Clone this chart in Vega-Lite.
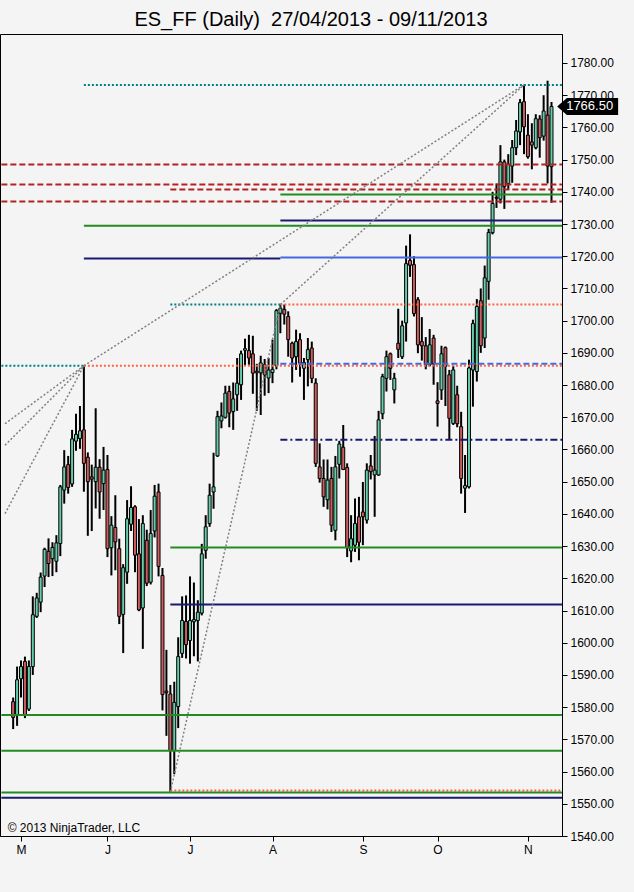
{
  "$schema": "https://vega.github.io/schema/vega-lite/v6.json",
  "autosize": "none",
  "width": 562,
  "height": 802,
  "padding": {"left": 0, "top": 34, "right": 72, "bottom": 56},
  "background": "#f4f4f4",
  "title": {
    "text": "ES_FF (Daily)\u00a0 27/04/2013 - 09/11/2013",
    "font": "Liberation Sans",
    "fontSize": 20,
    "fontWeight": "normal",
    "color": "#000000",
    "baseline": "bottom",
    "offset": 6,
    "dx": 30,
    "dy": 22
  },
  "datasets": {
    "bars": [
      {"d": 1, "o": 1581.7, "h": 1583.0, "l": 1573.2, "c": 1576.8},
      {"d": 2, "o": 1577.4, "h": 1592.6, "l": 1574.2, "c": 1588.5},
      {"d": 3, "o": 1588.8, "h": 1594.5, "l": 1583.0, "c": 1592.6},
      {"d": 4, "o": 1594.2, "h": 1595.7, "l": 1576.6, "c": 1577.4},
      {"d": 5, "o": 1579.4, "h": 1594.5, "l": 1578.8, "c": 1592.6},
      {"d": 6, "o": 1592.6, "h": 1614.4, "l": 1590.0, "c": 1608.7},
      {"d": 7, "o": 1608.2, "h": 1615.5, "l": 1607.7, "c": 1613.9},
      {"d": 8, "o": 1612.6, "h": 1621.8, "l": 1609.5, "c": 1620.4},
      {"d": 9, "o": 1620.7, "h": 1629.5, "l": 1617.3, "c": 1629.0},
      {"d": 10, "o": 1628.4, "h": 1632.4, "l": 1620.4, "c": 1624.6},
      {"d": 11, "o": 1626.1, "h": 1631.2, "l": 1620.7, "c": 1629.6},
      {"d": 12, "o": 1625.3, "h": 1633.4, "l": 1621.9, "c": 1631.0},
      {"d": 13, "o": 1630.8, "h": 1649.0, "l": 1626.9, "c": 1648.4},
      {"d": 14, "o": 1647.4, "h": 1659.8, "l": 1643.2, "c": 1654.6},
      {"d": 15, "o": 1655.3, "h": 1658.0, "l": 1646.3, "c": 1648.2},
      {"d": 16, "o": 1649.3, "h": 1666.1, "l": 1648.4, "c": 1663.3},
      {"d": 17, "o": 1662.6, "h": 1671.1, "l": 1659.6, "c": 1664.7},
      {"d": 18, "o": 1663.4, "h": 1673.5, "l": 1660.2, "c": 1665.8},
      {"d": 19, "o": 1666.1, "h": 1686.0, "l": 1646.9, "c": 1655.7},
      {"d": 20, "o": 1657.6, "h": 1659.1, "l": 1633.2, "c": 1650.0},
      {"d": 21, "o": 1651.5, "h": 1655.3, "l": 1634.7, "c": 1650.8},
      {"d": 22, "o": 1650.0, "h": 1672.8, "l": 1641.7, "c": 1654.5},
      {"d": 23, "o": 1654.5, "h": 1657.0, "l": 1638.5, "c": 1646.8},
      {"d": 24, "o": 1649.4, "h": 1660.8, "l": 1641.2, "c": 1653.6},
      {"d": 25, "o": 1653.8, "h": 1658.3, "l": 1626.6, "c": 1629.2},
      {"d": 26, "o": 1629.5, "h": 1639.3, "l": 1620.9, "c": 1636.5},
      {"d": 27, "o": 1635.8, "h": 1645.8, "l": 1622.5, "c": 1631.3},
      {"d": 28, "o": 1629.2, "h": 1632.3, "l": 1605.8, "c": 1608.2},
      {"d": 29, "o": 1608.8, "h": 1624.4, "l": 1596.8, "c": 1623.3},
      {"d": 30, "o": 1621.9, "h": 1644.3, "l": 1618.3, "c": 1638.5},
      {"d": 31, "o": 1636.8, "h": 1648.6, "l": 1634.7, "c": 1642.0},
      {"d": 32, "o": 1642.2, "h": 1642.7, "l": 1621.9, "c": 1627.2},
      {"d": 33, "o": 1627.6, "h": 1638.4, "l": 1609.8, "c": 1610.2},
      {"d": 34, "o": 1610.8, "h": 1639.6, "l": 1598.1, "c": 1637.0},
      {"d": 35, "o": 1631.8, "h": 1635.1, "l": 1617.6, "c": 1618.5},
      {"d": 36, "o": 1618.8, "h": 1641.2, "l": 1618.1, "c": 1633.9},
      {"d": 37, "o": 1634.7, "h": 1649.0, "l": 1632.7, "c": 1645.5},
      {"d": 38, "o": 1646.8, "h": 1649.4, "l": 1620.6, "c": 1623.7},
      {"d": 39, "o": 1620.9, "h": 1623.2, "l": 1579.0, "c": 1583.9},
      {"d": 40, "o": 1585.0, "h": 1597.8, "l": 1571.1, "c": 1584.5},
      {"d": 41, "o": 1584.1, "h": 1586.9, "l": 1553.6, "c": 1566.5},
      {"d": 42, "o": 1566.5, "h": 1587.9, "l": 1559.2, "c": 1581.5},
      {"d": 43, "o": 1580.2, "h": 1601.7, "l": 1573.5, "c": 1595.7},
      {"d": 44, "o": 1596.7, "h": 1614.4, "l": 1595.3, "c": 1606.9},
      {"d": 45, "o": 1606.6, "h": 1614.7, "l": 1595.1, "c": 1599.4},
      {"d": 46, "o": 1600.7, "h": 1620.6, "l": 1593.5, "c": 1606.9},
      {"d": 47, "o": 1606.5, "h": 1618.7, "l": 1595.8, "c": 1607.2},
      {"d": 48, "o": 1606.9, "h": 1613.2, "l": 1594.2, "c": 1609.5},
      {"d": 49, "o": 1609.2, "h": 1630.7, "l": 1608.5, "c": 1627.6},
      {"d": 50, "o": 1628.7, "h": 1639.6, "l": 1626.1, "c": 1636.0},
      {"d": 51, "o": 1637.0, "h": 1649.4, "l": 1636.0, "c": 1645.8},
      {"d": 52, "o": 1646.8, "h": 1659.0, "l": 1641.6, "c": 1648.4},
      {"d": 53, "o": 1658.0, "h": 1672.0, "l": 1657.7, "c": 1670.2},
      {"d": 54, "o": 1668.9, "h": 1674.6, "l": 1666.6, "c": 1670.4},
      {"d": 55, "o": 1670.0, "h": 1679.8, "l": 1669.6, "c": 1677.5},
      {"d": 56, "o": 1678.0, "h": 1679.8, "l": 1666.9, "c": 1671.3},
      {"d": 57, "o": 1671.8, "h": 1680.8, "l": 1666.1, "c": 1675.7},
      {"d": 58, "o": 1677.0, "h": 1688.4, "l": 1672.0, "c": 1680.6},
      {"d": 59, "o": 1680.1, "h": 1690.7, "l": 1675.4, "c": 1689.7},
      {"d": 60, "o": 1690.8, "h": 1694.4, "l": 1686.0, "c": 1691.3},
      {"d": 61, "o": 1690.7, "h": 1695.6, "l": 1686.3, "c": 1688.4},
      {"d": 62, "o": 1689.7, "h": 1695.3, "l": 1677.3, "c": 1683.7},
      {"d": 63, "o": 1684.3, "h": 1686.6, "l": 1672.0, "c": 1683.8},
      {"d": 64, "o": 1683.8, "h": 1689.1, "l": 1670.7, "c": 1686.9},
      {"d": 65, "o": 1686.3, "h": 1688.1, "l": 1676.7, "c": 1683.2},
      {"d": 66, "o": 1682.2, "h": 1688.4, "l": 1677.5, "c": 1684.7},
      {"d": 67, "o": 1683.9, "h": 1694.1, "l": 1680.6, "c": 1684.9},
      {"d": 68, "o": 1686.0, "h": 1703.6, "l": 1684.9, "c": 1703.1},
      {"d": 69, "o": 1702.3, "h": 1705.0, "l": 1696.1, "c": 1703.9},
      {"d": 70, "o": 1703.5, "h": 1705.0, "l": 1698.8, "c": 1702.0},
      {"d": 71, "o": 1701.3, "h": 1702.9, "l": 1688.8, "c": 1694.1},
      {"d": 72, "o": 1693.0, "h": 1693.5, "l": 1680.8, "c": 1688.4},
      {"d": 73, "o": 1688.8, "h": 1697.2, "l": 1684.7, "c": 1693.5},
      {"d": 74, "o": 1694.1, "h": 1696.1, "l": 1682.6, "c": 1686.8},
      {"d": 75, "o": 1685.2, "h": 1688.4, "l": 1675.4, "c": 1687.0},
      {"d": 76, "o": 1687.9, "h": 1694.6, "l": 1679.6, "c": 1691.0},
      {"d": 77, "o": 1691.5, "h": 1693.5, "l": 1680.6, "c": 1682.1},
      {"d": 78, "o": 1680.6, "h": 1682.1, "l": 1654.6, "c": 1655.7},
      {"d": 79, "o": 1654.6, "h": 1661.9, "l": 1649.7, "c": 1651.0},
      {"d": 80, "o": 1651.0, "h": 1656.9, "l": 1642.2, "c": 1645.3},
      {"d": 81, "o": 1644.4, "h": 1656.9, "l": 1641.4, "c": 1650.5},
      {"d": 82, "o": 1651.0, "h": 1654.6, "l": 1634.4, "c": 1636.5},
      {"d": 83, "o": 1634.9, "h": 1658.0, "l": 1631.8, "c": 1654.6},
      {"d": 84, "o": 1655.4, "h": 1662.7, "l": 1651.0, "c": 1661.7},
      {"d": 85, "o": 1660.7, "h": 1667.6, "l": 1653.6, "c": 1653.8},
      {"d": 86, "o": 1654.4, "h": 1655.7, "l": 1626.6, "c": 1629.5},
      {"d": 87, "o": 1628.5, "h": 1639.6, "l": 1625.0, "c": 1632.3},
      {"d": 88, "o": 1630.3, "h": 1644.8, "l": 1628.2, "c": 1637.0},
      {"d": 89, "o": 1639.1, "h": 1645.3, "l": 1625.6, "c": 1631.2},
      {"d": 90, "o": 1640.6, "h": 1649.9, "l": 1630.3, "c": 1639.1},
      {"d": 91, "o": 1638.1, "h": 1655.7, "l": 1637.0, "c": 1653.6},
      {"d": 92, "o": 1654.9, "h": 1658.3, "l": 1650.7, "c": 1653.1},
      {"d": 93, "o": 1652.1, "h": 1664.2, "l": 1639.1, "c": 1653.6},
      {"d": 94, "o": 1652.1, "h": 1672.0, "l": 1651.8, "c": 1669.2},
      {"d": 95, "o": 1671.1, "h": 1683.5, "l": 1669.4, "c": 1682.6},
      {"d": 96, "o": 1682.1, "h": 1690.7, "l": 1678.0, "c": 1688.8},
      {"d": 97, "o": 1689.7, "h": 1690.1, "l": 1681.6, "c": 1685.2},
      {"d": 98, "o": 1678.5, "h": 1683.8, "l": 1674.3, "c": 1682.1},
      {"d": 99, "o": 1693.0, "h": 1703.7, "l": 1688.4, "c": 1691.1},
      {"d": 100, "o": 1688.8, "h": 1700.0, "l": 1688.1, "c": 1698.4},
      {"d": 101, "o": 1699.3, "h": 1723.3, "l": 1693.5, "c": 1717.7},
      {"d": 102, "o": 1718.7, "h": 1726.8, "l": 1713.6, "c": 1717.2},
      {"d": 103, "o": 1717.4, "h": 1720.0, "l": 1701.3, "c": 1702.2},
      {"d": 104, "o": 1706.5, "h": 1707.3, "l": 1689.9, "c": 1692.5},
      {"d": 105, "o": 1693.5, "h": 1701.1, "l": 1687.6, "c": 1692.2},
      {"d": 106, "o": 1692.2, "h": 1694.9, "l": 1684.9, "c": 1686.3},
      {"d": 107, "o": 1686.3, "h": 1697.4, "l": 1685.8, "c": 1692.5},
      {"d": 108, "o": 1694.6, "h": 1695.6, "l": 1680.1, "c": 1686.6},
      {"d": 109, "o": 1675.1, "h": 1680.9, "l": 1667.1, "c": 1674.3},
      {"d": 110, "o": 1678.5, "h": 1692.2, "l": 1675.4, "c": 1689.7},
      {"d": 111, "o": 1691.6, "h": 1692.0, "l": 1673.5, "c": 1685.8},
      {"d": 112, "o": 1683.2, "h": 1684.7, "l": 1663.0, "c": 1669.7},
      {"d": 113, "o": 1668.1, "h": 1686.0, "l": 1667.6, "c": 1684.7},
      {"d": 114, "o": 1677.0, "h": 1679.8, "l": 1666.9, "c": 1668.0},
      {"d": 115, "o": 1667.1, "h": 1671.7, "l": 1646.3, "c": 1651.0},
      {"d": 116, "o": 1648.0, "h": 1658.3, "l": 1640.3, "c": 1648.8},
      {"d": 117, "o": 1648.4, "h": 1687.9, "l": 1647.9, "c": 1685.3},
      {"d": 118, "o": 1684.7, "h": 1700.3, "l": 1673.3, "c": 1699.1},
      {"d": 119, "o": 1684.2, "h": 1706.7, "l": 1681.1, "c": 1704.4},
      {"d": 120, "o": 1706.2, "h": 1710.0, "l": 1690.0, "c": 1692.2},
      {"d": 121, "o": 1694.6, "h": 1717.1, "l": 1691.5, "c": 1713.3},
      {"d": 122, "o": 1712.2, "h": 1728.5, "l": 1706.5, "c": 1727.4},
      {"d": 123, "o": 1727.3, "h": 1740.0, "l": 1726.8, "c": 1736.4},
      {"d": 124, "o": 1738.3, "h": 1742.6, "l": 1735.0, "c": 1738.0},
      {"d": 125, "o": 1737.7, "h": 1754.5, "l": 1736.4, "c": 1749.3},
      {"d": 126, "o": 1749.3, "h": 1750.0, "l": 1734.7, "c": 1741.6},
      {"d": 127, "o": 1742.6, "h": 1751.7, "l": 1740.6, "c": 1748.6},
      {"d": 128, "o": 1748.0, "h": 1756.1, "l": 1742.8, "c": 1753.7},
      {"d": 129, "o": 1753.7, "h": 1762.3, "l": 1751.4, "c": 1758.9},
      {"d": 130, "o": 1758.6, "h": 1768.8, "l": 1754.5, "c": 1767.7},
      {"d": 131, "o": 1768.0, "h": 1773.2, "l": 1751.7, "c": 1760.2},
      {"d": 132, "o": 1757.6, "h": 1764.1, "l": 1750.3, "c": 1750.9},
      {"d": 133, "o": 1755.5, "h": 1761.3, "l": 1747.0, "c": 1754.5},
      {"d": 134, "o": 1753.7, "h": 1764.1, "l": 1753.2, "c": 1762.7},
      {"d": 135, "o": 1762.6, "h": 1763.8, "l": 1750.6, "c": 1756.8},
      {"d": 136, "o": 1757.3, "h": 1770.0, "l": 1755.9, "c": 1765.1},
      {"d": 137, "o": 1763.8, "h": 1774.5, "l": 1742.6, "c": 1748.0},
      {"d": 138, "o": 1747.8, "h": 1767.9, "l": 1736.6, "c": 1766.5}
    ],
    "levels": [
      {"from": 19, "to": 141, "p": 1773.2, "kind": "tealdot"},
      {"from": -2, "to": 141, "p": 1748.5, "kind": "reddash"},
      {"from": -2, "to": 141, "p": 1742.3, "kind": "reddash"},
      {"from": 41, "to": 141, "p": 1740.7, "kind": "reddash"},
      {"from": -2, "to": 141, "p": 1737.0, "kind": "reddash"},
      {"from": 69, "to": 141, "p": 1739.2, "kind": "green"},
      {"from": 69, "to": 141, "p": 1731.1, "kind": "navy"},
      {"from": 19, "to": 141, "p": 1729.5, "kind": "green"},
      {"from": 19, "to": 69, "p": 1719.3, "kind": "navy"},
      {"from": 69, "to": 141, "p": 1719.6, "kind": "blue"},
      {"from": 41, "to": 69, "p": 1705.0, "kind": "tealdot"},
      {"from": 69, "to": 141, "p": 1705.0, "kind": "tomatodot"},
      {"from": -2, "to": 19, "p": 1686.0, "kind": "tealdot"},
      {"from": 19, "to": 141, "p": 1686.0, "kind": "tomatodot"},
      {"from": 69, "to": 141, "p": 1686.6, "kind": "bluedash"},
      {"from": 69, "to": 141, "p": 1663.0, "kind": "navydashdot"},
      {"from": 41, "to": 141, "p": 1629.6, "kind": "green"},
      {"from": 41, "to": 141, "p": 1611.9, "kind": "navy"},
      {"from": -2, "to": 141, "p": 1577.6, "kind": "green"},
      {"from": -2, "to": 141, "p": 1566.5, "kind": "green"},
      {"from": 41, "to": 141, "p": 1554.1, "kind": "tomatodot"},
      {"from": -2, "to": 141, "p": 1553.5, "kind": "green"},
      {"from": -2, "to": 141, "p": 1551.9, "kind": "navy"}
    ],
    "fans": [
      {"d0": 19, "p0": 1686.0, "d1": 131, "p1": 1773.2},
      {"d0": 69, "p0": 1705.0, "d1": 131, "p1": 1773.2},
      {"d0": 41, "p0": 1553.6, "d1": 69, "p1": 1705.0},
      {"d0": -1.075, "p0": 1668.0, "d1": 19, "p1": 1686.0},
      {"d0": -1.075, "p0": 1661.3, "d1": 19, "p1": 1686.0},
      {"d0": -1.075, "p0": 1640.1, "d1": 19, "p1": 1686.0}
    ],
    "last": [{"price": 1766.5}]
  },
  "encoding": {
    "x": {
      "type": "quantitative",
      "scale": {"domain": [-1.075, 139.4], "nice": false, "zero": false},
      "axis": {
        "title": null,
        "grid": false,
        "values": [3, 25, 46, 67, 90, 109, 132],
        "labelExpr": "['M','J','J','A','S','O','N'][indexof([3,25,46,67,90,109,132], datum.value)]",
        "labelFont": "Liberation Sans",
        "labelFontSize": 12,
        "labelColor": "#000000",
        "labelPadding": 3,
        "labelOverlap": false,
        "tickSize": 5,
        "tickColor": "#000000",
        "domainColor": "#000000"
      }
    },
    "y": {
      "type": "quantitative",
      "scale": {"domain": [1540, 1789], "nice": false, "zero": false},
      "axis": {
        "orient": "right",
        "title": null,
        "grid": false,
        "values": [1540, 1550, 1560, 1570, 1580, 1590, 1600, 1610, 1620, 1630, 1640, 1650, 1660, 1670, 1680, 1690, 1700, 1710, 1720, 1730, 1740, 1750, 1760, 1770, 1780],
        "format": ".2f",
        "labelFont": "Liberation Sans",
        "labelFontSize": 12,
        "labelColor": "#000000",
        "labelPadding": 3,
        "labelOverlap": false,
        "tickSize": 5,
        "tickColor": "#000000",
        "domainColor": "#000000"
      }
    }
  },
  "layer": [
    {
      "data": {"name": "bars"},
      "mark": {"type": "rule", "color": "#000000", "strokeWidth": 2},
      "encoding": {
        "x": {"field": "d"},
        "y": {"field": "l"},
        "y2": {"field": "h"}
      }
    },
    {
      "data": {"name": "bars"},
      "mark": {"type": "bar", "width": 3, "stroke": "#000000", "strokeWidth": 1},
      "encoding": {
        "x": {"field": "d"},
        "y": {"field": "o"},
        "y2": {"field": "c"},
        "fill": {
          "condition": {"test": "datum.c >= datum.o", "value": "#66cdaa"},
          "value": "#cd5c5c"
        }
      }
    },
    {
      "data": {"name": "levels"},
      "mark": {"type": "rule", "strokeWidth": 2, "clip": true},
      "encoding": {
        "x": {"field": "from"},
        "x2": {"field": "to"},
        "y": {"field": "p"},
        "color": {
          "field": "kind",
          "type": "nominal",
          "legend": null,
          "scale": {
            "domain": ["tealdot", "tomatodot", "reddash", "green", "navy", "blue", "bluedash", "navydashdot"],
            "range": ["#008080", "#ff6347", "#b22222", "#228b22", "#191970", "#4169e1", "#4169e1", "#191970"]
          }
        },
        "strokeDash": {
          "field": "kind",
          "type": "nominal",
          "legend": null,
          "scale": {
            "domain": ["tealdot", "tomatodot", "reddash", "green", "navy", "blue", "bluedash", "navydashdot"],
            "range": [[2, 2], [2, 2], [6, 3], [1, 0], [1, 0], [1, 0], [6, 3], [7, 3, 2, 3]]
          }
        }
      }
    },
    {
      "data": {"name": "fans"},
      "mark": {"type": "rule", "color": "#808080", "strokeWidth": 1.5, "strokeDash": [2, 2], "clip": true},
      "encoding": {
        "x": {"field": "d0"},
        "x2": {"field": "d1"},
        "y": {"field": "p0"},
        "y2": {"field": "p1"}
      }
    },
    {
      "data": {"name": "last"},
      "mark": {
        "type": "point",
        "shape": "M -1 0 L -0.68 -0.28 L 1 -0.28 L 1 0.28 L -0.68 0.28 Z",
        "size": 3721,
        "filled": true,
        "color": "#000000",
        "opacity": 1
      },
      "encoding": {
        "x": {"datum": 147.2},
        "y": {"field": "price"}
      }
    },
    {
      "data": {"name": "last"},
      "mark": {"type": "text", "color": "#ffffff", "font": "Liberation Sans", "fontSize": 13, "align": "center", "baseline": "middle", "dx": 2},
      "encoding": {
        "x": {"datum": 147.2},
        "y": {"field": "price"},
        "text": {"field": "price", "type": "quantitative", "format": ".2f"}
      }
    },
    {
      "data": {"values": [{"note": "© 2013 NinjaTrader, LLC"}]},
      "mark": {"type": "text", "font": "Liberation Sans", "fontSize": 12, "color": "#000000", "align": "left", "baseline": "alphabetic"},
      "encoding": {
        "x": {"datum": -0.4},
        "y": {"datum": 1541.2},
        "text": {"field": "note"}
      }
    }
  ],
  "config": {
    "view": {"stroke": "#000000", "strokeWidth": 1, "fill": "#f4f4f4"}
  }
}
